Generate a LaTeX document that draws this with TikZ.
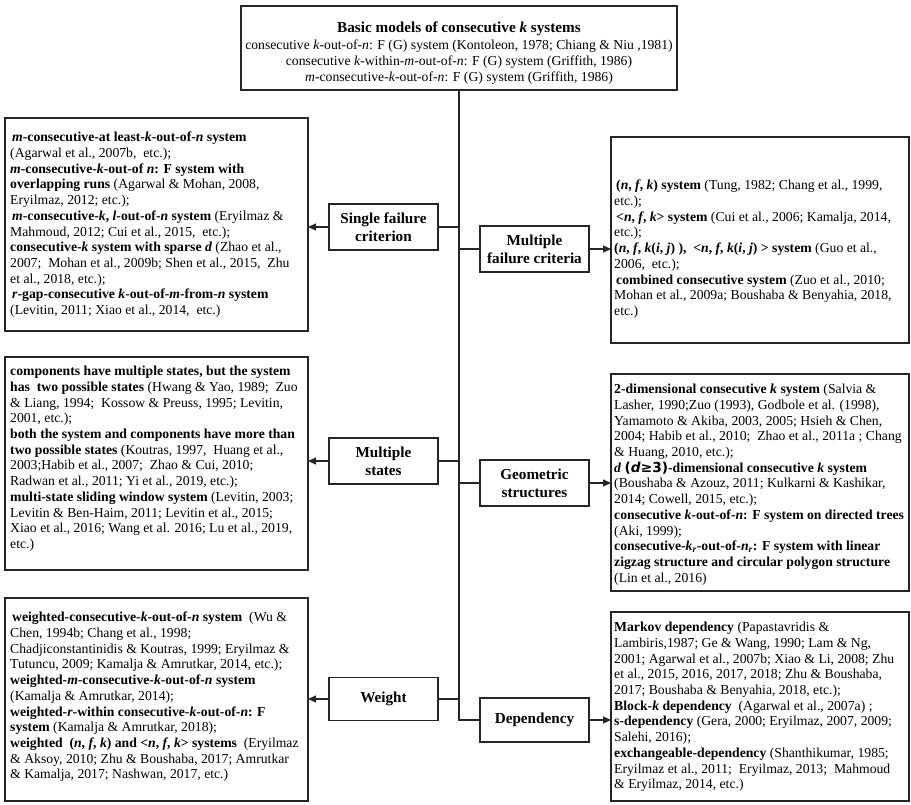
\documentclass[tikz,border=0pt]{standalone}
\usepackage{fontspec}
\setmainfont{Liberation Serif}
\newfontfamily\symfam{DejaVu Sans}
\usetikzlibrary{arrows.meta}
\newcommand{\bodyfont}{\fontsize{13.7}{15.7}\selectfont}
\newcommand{\catfont}{\fontsize{15.2}{18}\selectfont\bfseries}
\newcommand{\vi}[1]{\textit{#1}}

\begin{document}
\begin{tikzpicture}[x=1pt,y=-1pt,
  frame/.style={draw=black!85, line width=1.1pt, anchor=north west, inner sep=0pt, outer sep=0pt},
  body/.style={anchor=north west, align=left, inner sep=0pt, font=\bodyfont},
  cat/.style={draw=black!85, line width=1.1pt, minimum width=109pt, minimum height=46pt,
              align=center, font=\catfont, inner sep=1pt, outer sep=0pt},
  link/.style={line width=1.1pt, draw=black!85},
  arr/.style={link, -{Triangle[length=8pt,width=7pt]}}]
\useasboundingbox (0,0) rectangle (911,804);

% ---------- root ----------
\node[frame, minimum width=436pt, minimum height=84pt] (top) at (241,6) {};
\node[font=\catfont, inner sep=0pt] (title) at (459,29) {Basic models of consecutive \vi{k} systems};
\node[body, anchor=north, align=center] (basics) at (459,40) {%
consecutive \vi{k}-out-of-\vi{n}: F (G) system (Kontoleon, 1978; Chiang \& Niu ,1981)\\
consecutive \vi{k}-within-\vi{m}-out-of-\vi{n}: F (G) system (Griffith, 1986)\\
\vi{m}-consecutive-\vi{k}-out-of-\vi{n}: F (G) system (Griffith, 1986)};

% ---------- category boxes ----------
\node[cat] (sfc) at (383.5,227) {Single failure\\criterion};
\node[cat] (mfc) at (534.5,249) {Multiple\\failure criteria};
\node[cat] (ms)  at (383.5,461) {Multiple\\states};
\node[cat] (gs)  at (534.5,483) {Geometric\\structures};
\node[cat, minimum height=43pt] (wt)  at (383.5,699) {Weight};
\node[cat, minimum height=44pt] (dep) at (534.5,720) {Dependency};

% ---------- left detail boxes ----------
\node[frame, minimum width=303pt, minimum height=213pt] (b1) at (5,118) {};
\node[body] (t1) at (10,132) {%
\hspace{2pt}\textbf{\vi{m}-consecutive-at least-\vi{k}-out-of-\vi{n} system}\\
(Agarwal et al., 2007b,\ \ etc.);\\
\textbf{\vi{m}-consecutive-\vi{k}-out-of \vi{n}: F system with}\\
\textbf{overlapping runs} (Agarwal \& Mohan, 2008,\\
Eryilmaz, 2012; etc.);\\
\hspace{2pt}\textbf{\vi{m}-consecutive-\vi{k}, \vi{l}-out-of-\vi{n} system} (Eryilmaz \&\\
Mahmoud, 2012; Cui et al., 2015,\ \ etc.);\\
\textbf{consecutive-\vi{k} system with sparse \vi{d}} (Zhao et al.,\\
2007;\ \ Mohan et al., 2009b; Shen et al., 2015,\ \ Zhu\\
et al., 2018, etc.);\\
\hspace{2pt}\textbf{\vi{r}-gap-consecutive \vi{k}-out-of-\vi{m}-from-\vi{n} system}\\
(Levitin, 2011; Xiao et al., 2014,\ \ etc.)};

\node[frame, minimum width=303pt, minimum height=213pt] (b2) at (5,357) {};
\node[body] (t2) at (10,366) {%
\textbf{components have multiple states, but the system}\\
\textbf{has\ \ two possible states} (Hwang \& Yao, 1989;\ \ Zuo\\
\& Liang, 1994;\ \ Kossow \& Preuss, 1995; Levitin,\\
2001, etc.);\\
\textbf{both the system and components have more than}\\
\textbf{two possible states} (Koutras, 1997,\ \ Huang et al.,\\
2003;Habib et al., 2007;\ \ Zhao \& Cui, 2010;\\
Radwan et al., 2011; Yi et al., 2019, etc.);\\
\textbf{multi-state sliding window system} (Levitin, 2003;\\
Levitin \& Ben-Haim, 2011; Levitin et al., 2015;\\
Xiao et al., 2016; Wang et al. 2016; Lu et al., 2019,\\
etc.)};

\node[frame, minimum width=303pt, minimum height=203pt] (b3) at (5,598) {};
\node[body] (t3) at (10,612) {%
\hspace{2pt}\textbf{weighted-consecutive-\vi{k}-out-of-\vi{n} system}\ \ (Wu \&\\
Chen, 1994b; Chang et al., 1998;\\
Chadjiconstantinidis \& Koutras, 1999; Eryilmaz \&\\
Tutuncu, 2009; Kamalja \& Amrutkar, 2014, etc.);\\
\textbf{weighted-\vi{m}-consecutive-\vi{k}-out-of-\vi{n} system}\\
(Kamalja \& Amrutkar, 2014);\\
\textbf{weighted-\vi{r}-within consecutive-\vi{k}-out-of-\vi{n}: F}\\
\textbf{system} (Kamalja \& Amrutkar, 2018);\\
\textbf{weighted\ \ (\vi{n}, \vi{f}, \vi{k}) and <\vi{n}, \vi{f}, \vi{k}> systems}\ \ (Eryilmaz\\
\& Aksoy, 2010; Zhu \& Boushaba, 2017; Amrutkar\\
\& Kamalja, 2017; Nashwan, 2017, etc.)};

% ---------- right detail boxes ----------
\node[frame, minimum width=298pt, minimum height=206pt] (bA) at (611,137) {};
\node[body] (tA) at (614,180) {%
\hspace{2pt}\textbf{(\vi{n}, \vi{f}, \vi{k}) system} (Tung, 1982; Chang et al., 1999,\\
etc.);\\
\hspace{2pt}\textbf{<\vi{n}, \vi{f}, \vi{k}> system} (Cui et al., 2006; Kamalja, 2014,\\
etc.);\\
\textbf{(\vi{n}, \vi{f}, \vi{k}(\vi{i}, \vi{j}) ),\ \ <\vi{n}, \vi{f}, \vi{k}(\vi{i}, \vi{j}) > system} (Guo et al.,\\
2006,\ \ etc.);\\
\hspace{2pt}\textbf{combined consecutive system} (Zuo et al., 2010;\\
Mohan et al., 2009a; Boushaba \& Benyahia, 2018,\\
etc.)};

\node[frame, minimum width=298pt, minimum height=217pt] (bB) at (611,374) {};
\node[body] (tB) at (614,384) {%
\textbf{2-dimensional consecutive \vi{k} system} (Salvia \&\\
Lasher, 1990;Zuo (1993), Godbole et al. (1998),\\
Yamamoto \& Akiba, 2003, 2005; Hsieh \& Chen,\\
2004; Habib et al., 2010;\ \ Zhao et al., 2011a ; Chang\\
\& Huang, 2010, etc.);\\
\textbf{\vi{d} {\symfam(\vi{d}≥3)}-dimensional consecutive \vi{k} system}\\
(Boushaba \& Azouz, 2011; Kulkarni \& Kashikar,\\
2014; Cowell, 2015, etc.);\\
\textbf{consecutive \vi{k}-out-of-\vi{n}: F system on directed trees}\\
(Aki, 1999);\\
\textbf{consecutive-\vi{k}\textsubscript{\vi{r}}-out-of-\vi{n}\textsubscript{\vi{r}}: F system with linear}\\
\textbf{zigzag structure and circular polygon structure}\\
(Lin et al., 2016)};

\node[frame, minimum width=298pt, minimum height=189pt] (bC) at (611,612) {};
\node[body] (tC) at (614,622) {%
\textbf{Markov dependency} (Papastavridis \&\\
Lambiris,1987; Ge \& Wang, 1990; Lam \& Ng,\\
2001; Agarwal et al., 2007b; Xiao \& Li, 2008; Zhu\\
et al., 2015, 2016, 2017, 2018; Zhu \& Boushaba,\\
2017; Boushaba \& Benyahia, 2018, etc.);\\
\textbf{Block-\vi{k} dependency}\ \ (Agarwal et al., 2007a) ;\\
\textbf{s-dependency} (Gera, 2000; Eryilmaz, 2007, 2009;\\
Salehi, 2016);\\
\textbf{exchangeable-dependency} (Shanthikumar, 1985;\\
Eryilmaz et al., 2011;\ \ Eryilmaz, 2013;\ \ Mahmoud\\
\& Eryilmaz, 2014, etc.)};

% ---------- trunk and branches ----------
\draw[link] (top.south) -- (top.south |- dep.west) -- (dep.west);
\draw[link] (sfc.east) -- (sfc.east -| top.south);
\draw[link] (mfc.west -| top.south) -- (mfc.west);
\draw[link] (ms.east) -- (ms.east -| top.south);
\draw[link] (gs.west -| top.south) -- (gs.west);
\draw[link] (wt.east) -- (wt.east -| top.south);

\draw[arr] (sfc.west) -- (sfc.west -| b1.east);
\draw[arr] (ms.west)  -- (ms.west -| b2.east);
\draw[arr] (wt.west)  -- (wt.west -| b3.east);
\draw[arr] (mfc.east) -- (mfc.east -| bA.west);
\draw[arr] (gs.east)  -- (gs.east -| bB.west);
\draw[arr] (dep.east) -- (dep.east -| bC.west);
\end{tikzpicture}
\end{document}
